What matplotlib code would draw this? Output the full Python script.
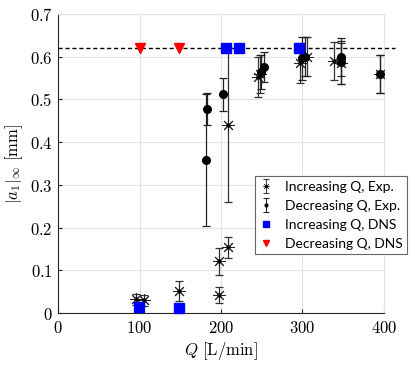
import numpy as np
import matplotlib
matplotlib.use("Agg")
import matplotlib.pyplot as plt
from matplotlib.lines import Line2D
from matplotlib.legend_handler import HandlerTuple
from matplotlib.ticker import FuncFormatter

plt.rcParams['mathtext.fontset'] = 'cm'

# Increasing Q, experiments
inc_exp_q = [96, 106, 148, 197, 197, 209, 209, 245, 248, 297, 305, 339, 347, 395]
inc_exp_a = [0.032, 0.030, 0.052, 0.042, 0.121, 0.154, 0.44, 0.553, 0.560, 0.586, 0.600, 0.590, 0.585, 0.560]
inc_exp_err = [0.014, 0.013, 0.023, 0.019, 0.032, 0.025, 0.18, 0.047, 0.045, 0.047, 0.045, 0.045, 0.048, 0.045]

# Decreasing Q, experiments
dec_exp_q = [181, 182.5, 202, 249, 253, 299, 303, 347, 347, 395]
dec_exp_a = [0.358, 0.478, 0.512, 0.565, 0.575, 0.596, 0.600, 0.599, 0.587, 0.560]
dec_exp_err = [0.154, 0.037, 0.039, 0.04, 0.035, 0.05, 0.045, 0.045, 0.05, 0.045]

# DNS
inc_dns_q = [99, 148, 206, 222, 296]
inc_dns_a = [0.015, 0.012, 0.62, 0.62, 0.62]
dec_dns_q = [100, 148]
dec_dns_a = [0.62, 0.62]

ref_level = 0.62

xticks = [0, 100, 200, 300, 400]
yticks = [0, 0.1, 0.2, 0.3, 0.4, 0.5, 0.6, 0.7]

fig = plt.figure(figsize=(4.15, 3.68), dpi=100)
ax = fig.add_axes([0.14, 0.149, 0.785, 0.813])

ax.set_xlim(0, 400)
ax.set_ylim(0, 0.7)
ax.set_xticks(xticks)
ax.set_yticks(yticks)
ax.grid(True, color='#e3e3e3', lw=0.8)
ax.set_axisbelow(True)
for s in ['top', 'right']:
    ax.spines[s].set_color('#e3e3e3')
for s in ['left', 'bottom']:
    ax.spines[s].set_color('#262626')
    ax.spines[s].set_linewidth(0.8)
ax.tick_params(direction='in', length=3, color='#262626', labelsize=12, pad=4)
fmt = FuncFormatter(lambda v, p: '$%g$' % v)
ax.xaxis.set_major_formatter(fmt)
ax.yaxis.set_major_formatter(fmt)

ax.plot([0, 414], [ref_level, ref_level], ls='--', color='k', lw=1.0, clip_on=False, zorder=3,
        dashes=(3, 2))

asterisk = (8, 2, 0)
ax.errorbar(inc_exp_q, inc_exp_a, yerr=inc_exp_err, fmt='none', ecolor='#333333',
            elinewidth=0.9, capsize=3, capthick=0.9, zorder=4)
ax.plot(inc_exp_q, inc_exp_a, ls='none', marker=asterisk, ms=9, mew=0.7, color='#222222', zorder=5)
ax.plot(inc_exp_q, inc_exp_a, ls='none', marker='o', ms=2, color='k', zorder=5)

ax.errorbar(dec_exp_q, dec_exp_a, yerr=dec_exp_err, fmt='none', ecolor='#222222',
            elinewidth=0.9, capsize=3, capthick=0.9, zorder=4)
ax.plot(dec_exp_q, dec_exp_a, ls='none', marker='o', ms=5.5, color='k', zorder=5)

ax.plot(inc_dns_q, inc_dns_a, ls='none', marker='s', ms=7.5, color='#0000ff', zorder=6, clip_on=False)
ax.plot(dec_dns_q, dec_dns_a, ls='none', marker='v', ms=7, color='#ff0000', zorder=6, clip_on=False)

ax.set_xlabel(r'$Q\ [\mathrm{L/min}]$', fontsize=12, labelpad=2)
ax.set_ylabel(r'$|a_1|_\infty\ [\mathrm{mm}]$', fontsize=12, labelpad=3)

# legend handles
h1 = ax.errorbar([np.nan], [np.nan], yerr=[np.nan], fmt='none', ecolor='#444444',
                 elinewidth=0.8, capsize=2.5, capthick=0.8)
h1m = Line2D([], [], ls='none', marker=asterisk, ms=4.5, mew=0.5, color='#444444')
h1d = Line2D([], [], ls='none', marker='o', ms=1.5, color='k')
h2 = ax.errorbar([np.nan], [np.nan], yerr=[np.nan], fmt='none', ecolor='#222222',
                 elinewidth=0.8, capsize=2.5, capthick=0.8)
h2m = Line2D([], [], ls='none', marker='o', ms=2, color='k')
h3 = Line2D([], [], ls='none', marker='s', ms=5, color='#0000ff')
h4 = Line2D([], [], ls='none', marker='v', ms=5, color='#ff0000')
leg = fig.legend([(h1, h1m, h1d), (h2, h2m), h3, h4],
                 ['Increasing Q, Exp.', 'Decreasing Q, Exp.', 'Increasing Q, DNS', 'Decreasing Q, DNS'],
                 handler_map={tuple: HandlerTuple(ndivide=1, pad=0)},
                 loc='upper left', bbox_to_anchor=(0.614, 0.522), fancybox=False,
                 edgecolor='#666666', framealpha=1, prop={'family': 'Lato', 'size': 10},
                 handlelength=0.9, handletextpad=0.9, borderpad=0.35, labelspacing=0.5,
                 borderaxespad=0)
leg.get_frame().set_linewidth(0.8)

fig.savefig('out.png', dpi=100)
